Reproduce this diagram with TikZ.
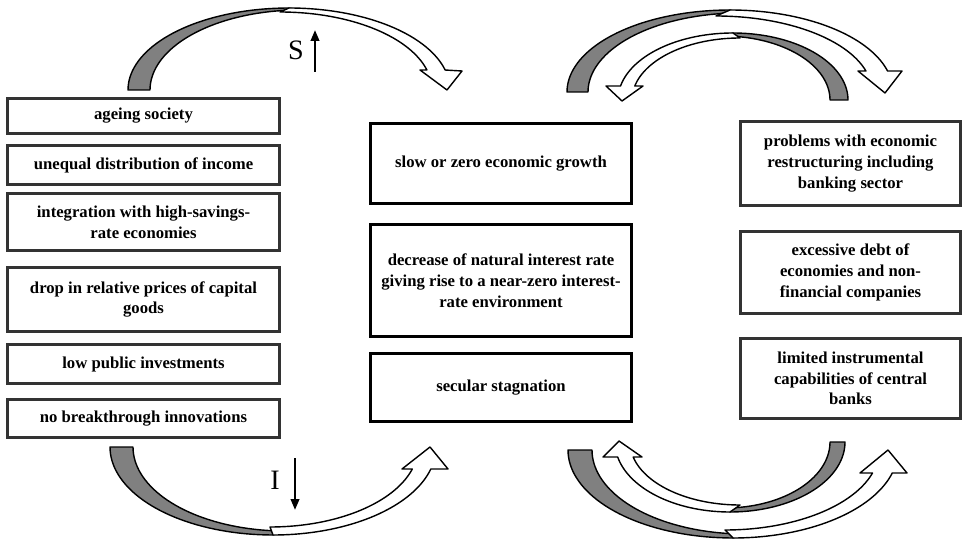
\documentclass[tikz,border=0pt]{standalone}
\usepackage{fontspec}
\setmainfont{Liberation Serif}
\usetikzlibrary{arrows.meta}
\definecolor{arrowgray}{gray}{0.5}
\definecolor{boxline}{gray}{0.2}
\begin{document}
\begin{tikzpicture}[x=0.02cm,y=-0.02cm,
  box/.style={draw=boxline, line width=1.6pt, fill=white, align=center, inner sep=1pt,
    font=\bfseries\fontsize{9.5}{11.8}\selectfont},
  lbox/.style={box, minimum width=5.44cm},
  mbox/.style={box, draw=black, line width=1.8pt, minimum width=5.22cm},
  rbox/.style={box, minimum width=4.4cm},
  back/.style={fill=arrowgray, draw=black, line width=0.8pt, line join=round},
  front/.style={fill=white, draw=black, line width=0.8pt, line join=round},
  lab/.style={font=\fontsize{16}{18}\selectfont, inner sep=0pt},
  vec/.style={line width=1.3pt, -{Triangle[length=0.22cm,width=0.17cm]}}
]
\useasboundingbox (0,0) rectangle (970,540);

% ---------- left column ----------
\node[lbox, minimum height=0.70cm] (l1) at (143.5,116) {ageing society};
\node[lbox, minimum height=0.78cm] (l2) at (143.5,165) {unequal distribution of income};
\node[lbox, minimum height=1.14cm] (l3) at (143.5,222) {integration with high-savings-\\rate economies};
\node[lbox, minimum height=1.28cm, line width=2pt] (l4) at (143.5,299.5) {drop in relative prices of capital\\goods};
\node[lbox, minimum height=0.78cm, line width=2pt] (l5) at (143.5,364) {low public investments};
\node[lbox, minimum height=0.76cm, line width=2pt] (l6) at (143.5,418.5) {no breakthrough innovations};

% ---------- middle column ----------
\node[mbox, minimum height=1.60cm] (m1) at (501,163.5) {slow or zero economic growth};
\node[mbox, minimum height=2.24cm] (m2) at (501,280.5) {decrease of natural interest rate\\giving rise to a near-zero interest-\\rate environment};
\node[mbox, minimum height=1.36cm] (m3) at (501,387.5) {secular stagnation};

% ---------- right column ----------
\node[rbox, minimum height=1.68cm] (r1) at (850.5,163.5) {problems with economic\\restructuring including\\banking sector};
\node[rbox, minimum height=1.64cm] (r2) at (850.5,272.5) {excessive debt of\\economies and non-\\financial companies};
\node[rbox, minimum height=1.60cm] (r3) at (850.5,378.5) {limited instrumental\\capabilities of central\\banks};

% ---------- top-left curved arrow ----------
\filldraw[back] plot[domain=180:90, samples=40] ({289+161*cos(\x)},{90-82*sin(\x)})
  -- plot[domain=90:180, samples=40] ({300+150*cos(\x)},{90-80*sin(\x)}) -- cycle;
\filldraw[front] plot[domain=90:14.1, samples=40] ({289+161*cos(\x)},{90-82*sin(\x)})
  -- (462,71) -- (447,90) -- (420,70)
  -- plot[domain=14.9:90, samples=40] ({280+152*cos(\x)},{90-78*sin(\x)}) -- cycle;

% ---------- bottom-left curved arrow ----------
\filldraw[back] plot[domain=180:270, samples=40] ({273+163*cos(\x)},{447-88*sin(\x)})
  -- plot[domain=270:180, samples=40] ({285+152*cos(\x)},{447-84*sin(\x)}) -- cycle;
\filldraw[front] plot[domain=270:345.5, samples=40] ({273+163*cos(\x)},{447-88*sin(\x)})
  -- (448,469) -- (430,447) -- (402,469)
  -- plot[domain=344:270, samples=40] ({270+148*cos(\x)},{447-80*sin(\x)}) -- cycle;

% ---------- top-right outer arrow ----------
\filldraw[back] plot[domain=180:90, samples=40] ({730+163*cos(\x)},{92-82*sin(\x)})
  -- plot[domain=90:180, samples=40] ({740+152*cos(\x)},{92-79*sin(\x)}) -- cycle;
\filldraw[front] plot[domain=90:14.84, samples=40] ({730+163*cos(\x)},{92-82*sin(\x)})
  -- (902,71) -- (885,93) -- (858,71)
  -- plot[domain=16.04:90, samples=40] ({716+156*cos(\x)},{92-76*sin(\x)}) -- cycle;

% ---------- top-right inner arrow ----------
\filldraw[back] plot[domain=0:90, samples=40] ({733+115*cos(\x)},{100-67*sin(\x)})
  -- plot[domain=90:0, samples=40] ({723+107*cos(\x)},{100-64*sin(\x)}) -- cycle;
\filldraw[front] plot[domain=90:167.94, samples=40] ({733+115*cos(\x)},{100-67*sin(\x)})
  -- (606,86) -- (622,101) -- (643,86)
  -- plot[domain=166.95:90, samples=40] ({740+108*cos(\x)},{100-62*sin(\x)}) -- cycle;

% ---------- bottom-right outer arrow ----------
\filldraw[back] plot[domain=180:270, samples=40] ({733+165*cos(\x)},{450-88*sin(\x)})
  -- plot[domain=270:180, samples=40] ({745+153*cos(\x)},{450-84*sin(\x)}) -- cycle;
\filldraw[front] plot[domain=270:344.85, samples=40] ({733+165*cos(\x)},{450-88*sin(\x)})
  -- (907,473) -- (888,450) -- (860,473)
  -- plot[domain=343.29:270, samples=40] ({725+154*cos(\x)},{450-80*sin(\x)}) -- cycle;

% ---------- bottom-right inner arrow ----------
\filldraw[back] plot[domain=360:270, samples=40] ({730+115*cos(\x)},{442-70*sin(\x)})
  -- plot[domain=270:360, samples=40] ({725+105*cos(\x)},{442-66*sin(\x)}) -- cycle;
\filldraw[front] plot[domain=270:192.37, samples=40] ({730+115*cos(\x)},{442-70*sin(\x)})
  -- (603,457) -- (619,441) -- (642,457)
  -- plot[domain=193.77:270, samples=40] ({740+110*cos(\x)},{442-63*sin(\x)}) -- cycle;

% ---------- S and I labels ----------
\node[lab] (S) at (296,50) {S};
\coordinate (sa) at (315,72);
\coordinate (sb) at (315,30);
\draw[vec] (sa) -- (sb);
\node[lab] (I) at (275,480) {I};
\coordinate (ia) at (295,458);
\coordinate (ib) at (295,510);
\draw[vec] (ia) -- (ib);
\end{tikzpicture}
\end{document}
